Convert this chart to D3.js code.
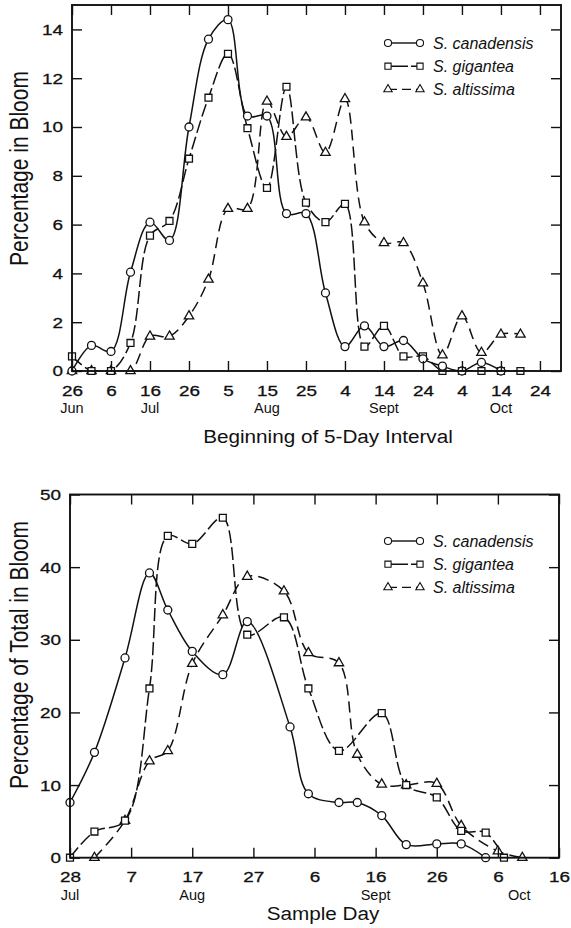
<!DOCTYPE html>
<html>
<head>
<meta charset="utf-8">
<script src="https://cdn.jsdelivr.net/npm/d3@7"></script>
<style>
  body { margin: 0; background: #fff; }
</style>
</head>
<body>
<svg id="fig" width="571" height="928"></svg>
<script>
// ---- data: top panel, days after 26 Jun (start of each 5-day interval)
const intervalDays = [0, 5, 10, 15, 20, 25, 30, 35, 40, 45, 50, 55, 60, 65, 70, 75, 80, 85, 90, 95, 100, 105, 110, 115];
const intervalCanadensis = [0, 1.05, 0.8, 4.05, 6.1, 5.35, 10.0, 13.6, 14.4, 10.45, 10.45, 6.45, 6.45, 3.2, 1.0, 1.85, 1.0, 1.25, 0.5, 0.2, 0, 0.35, 0];
const intervalGigantea = [0.6, 0, 0, 1.15, 5.55, 6.15, 8.7, 11.2, 13.0, 9.95, 7.5, 11.65, 6.9, 6.1, 6.85, 1.0, 1.85, 0.6, 0.6, 0, 0, 0, 0, 0];
const intervalAltissima = [0, 0, 0, 0, 1.42, 1.42, 2.25, 3.75, 6.65, 6.65, 11.05, 9.6, 10.4, 8.95, 11.15, 6.1, 5.25, 5.25, 3.6, 0.65, 2.25, 0.75, 1.5, 1.5];
const intervalTickDays = [0, 10, 20, 30, 40, 50, 60, 70, 80, 90, 100, 110, 120];
const intervalTickLabels = ['26', '6', '16', '26', '5', '15', '25', '4', '14', '24', '4', '14', '24'];
const intervalMonthDays = [0, 20, 50, 80, 110];
const intervalMonths = ['Jun', 'Jul', 'Aug', 'Sept', 'Oct'];
const intervalYTicks = [0, 2, 4, 6, 8, 10, 12, 14];

// ---- data: bottom panel, days after 28 Jul (sample day)
const sampleDaysCanadensis = [0, 4, 9, 13, 16, 20, 25, 29, 36, 39, 44, 47, 51, 55, 60, 64, 68];
const sampleCanadensis = [7.6, 14.5, 27.5, 39.2, 34.1, 28.4, 25.2, 32.5, 18.0, 8.8, 7.6, 7.6, 5.8, 1.8, 1.9, 1.9, 0];
const sampleDaysGigantea = [0, 4, 9, 13, 16, 20, 25, 29, 35, 39, 44, 51, 55, 60, 64, 68, 71];
const sampleGigantea = [0, 3.6, 5.1, 23.3, 44.3, 43.2, 46.8, 30.7, 33.1, 23.3, 14.7, 19.9, 10.0, 8.3, 3.7, 3.45, 0];
const sampleDaysAltissima = [4, 9, 13, 16, 20, 25, 29, 35, 39, 44, 47, 51, 55, 60, 64, 70, 74];
const sampleAltissima = [0, 5.1, 13.3, 14.7, 26.7, 33.4, 38.7, 36.7, 28.2, 26.8, 14.2, 10.1, 10.0, 10.2, 4.4, 0.9, 0];
const sampleTickDays = [0, 10, 20, 30, 40, 50, 60, 70, 80];
const sampleTickLabels = ['28', '7', '17', '27', '6', '16', '26', '6', '16'];
const sampleMonthDays = [0, 20, 50, 73.5];
const sampleMonths = ['Jul', 'Aug', 'Sept', 'Oct'];
const sampleYTicks = [0, 10, 20, 30, 40, 50];

const speciesNames = ['S. canadensis', 'S. gigantea', 'S. altissima'];

// ---- styles
const FONT = '"Liberation Sans", Arial, Helvetica, sans-serif';
const markerTypes = [d3.symbolCircle, d3.symbolSquare, d3.symbolTriangle];
const markerSizes = [50, 48, 38];
const dashes = [null, '13,4', '11,6'];

const svg = d3.select('#fig');

function drawPanel(p) {
  const g = svg.append('g');
  const x = d3.scaleLinear().domain(p.xDomain).range(p.xRange);
  const y = d3.scaleLinear().domain(p.yDomain).range(p.yRange);
  const [x0, x1] = p.xRange;
  const [yb, yt] = p.yRange;

  // clip the smoothed curves to the plot area
  g.append('clipPath').attr('id', p.id + '-clip')
    .append('rect')
    .attr('x', x0).attr('y', yt)
    .attr('width', x1 - x0).attr('height', yb - yt);

  const line = d3.line()
    .x(d => x(d[0]))
    .y(d => y(d[1]))
    .curve(d3.curveCatmullRom.alpha(0.5));

  const series = p.series.map(s => s.days.map((d, j) => [d, s.values[j]]));

  series.forEach((pts, i) => {
    g.append('path')
      .datum(pts)
      .attr('clip-path', `url(#${p.id}-clip)`)
      .attr('d', line)
      .attr('fill', 'none')
      .attr('stroke', '#111')
      .attr('stroke-width', 1.5)
      .attr('stroke-dasharray', dashes[i]);
  });

  // markers, canadensis drawn last so it sits on top
  [2, 1, 0].forEach(i => {
    g.append('g').selectAll('path')
      .data(series[i])
      .join('path')
      .attr('transform', d => `translate(${x(d[0])},${y(d[1])})`)
      .attr('d', d3.symbol().type(markerTypes[i]).size(markerSizes[i]))
      .attr('fill', '#fff')
      .attr('stroke', '#111')
      .attr('stroke-width', 1.3);
  });

  // axes: inward ticks on all four sides
  const styleAxis = a => {
    a.select('.domain').remove();
    a.selectAll('line').attr('stroke', '#111').attr('stroke-width', 1.4);
    a.attr('font-family', FONT).attr('font-size', 15.5).attr('fill', '#111');
    a.selectAll('text')
      .attr('fill', '#111')
      .attr('stroke', '#111')
      .attr('stroke-width', 0.3)
      .attr('transform', 'scale(1.22,1)');
  };

  g.append('g')
    .attr('transform', `translate(0,${yb})`)
    .call(d3.axisBottom(x).tickValues(p.tickDays)
      .tickFormat((d, i) => p.tickLabels[i])
      .tickSizeInner(-10).tickSizeOuter(0).tickPadding(p.xPad))
    .call(styleAxis);

  g.append('g')
    .attr('transform', `translate(0,${yt})`)
    .call(d3.axisTop(x).tickValues(p.tickDays).tickFormat('')
      .tickSizeInner(-10).tickSizeOuter(0))
    .call(styleAxis);

  g.append('g')
    .attr('transform', `translate(${x0},0)`)
    .call(d3.axisLeft(y).tickValues(p.yTicks).tickFormat(d3.format('d'))
      .tickSizeInner(-10).tickSizeOuter(0).tickPadding(7.4))
    .call(styleAxis);

  g.append('g')
    .attr('transform', `translate(${x1},0)`)
    .call(d3.axisRight(y).tickValues(p.yTicks).tickFormat('')
      .tickSizeInner(-10).tickSizeOuter(0))
    .call(styleAxis);

  // frame
  g.append('rect')
    .attr('x', x0).attr('y', yt)
    .attr('width', x1 - x0).attr('height', yb - yt)
    .attr('fill', 'none')
    .attr('stroke', '#111')
    .attr('stroke-width', 1.9);

  // month names under the day ticks
  g.selectAll('.month')
    .data(p.monthDays)
    .join('text')
    .attr('class', 'month')
    .attr('x', d => x(d))
    .attr('y', p.monthY)
    .attr('text-anchor', 'middle')
    .attr('font-family', FONT)
    .attr('font-size', 14.5)
    .attr('fill', '#111')
    .text((d, i) => p.months[i]);

  // axis titles
  g.append('text')
    .attr('transform', `translate(${p.xTitleX},${p.xTitleY}) scale(1.09,1)`)
    .attr('text-anchor', 'middle')
    .attr('font-family', FONT)
    .attr('font-size', 19)
    .attr('fill', '#111')
    .text(p.xTitle);

  g.append('text')
    .attr('transform', `translate(28,${p.yTitleY}) rotate(-90) scale(1,1.22)`)
    .attr('text-anchor', 'middle')
    .attr('font-family', FONT)
    .attr('font-size', 21)
    .attr('fill', '#111')
    .text(p.yTitle);

  // legend
  const lg = g.append('g');
  speciesNames.forEach((name, i) => {
    const ly = p.legendY + i * 23.2;
    lg.append('line')
      .attr('x1', 388).attr('x2', 420)
      .attr('y1', ly).attr('y2', ly)
      .attr('stroke', '#111')
      .attr('stroke-width', 1.4)
      .attr('stroke-dasharray', i === 2 ? '9,5' : (i === 1 ? '20,3' : null));
    [388, 420].forEach(mx => {
      lg.append('path')
        .attr('transform', `translate(${mx},${ly})`)
        .attr('d', d3.symbol().type(markerTypes[i]).size(markerSizes[i] * 0.8))
        .attr('fill', '#fff')
        .attr('stroke', '#111')
        .attr('stroke-width', 1.1);
    });
    lg.append('text')
      .attr('x', 433)
      .attr('y', ly + 5.8)
      .attr('font-family', FONT)
      .attr('font-style', 'italic')
      .attr('font-size', 16)
      .attr('fill', '#111')
      .text(name);
  });
}

drawPanel({
  id: 'interval',
  xDomain: [0, 125.4], xRange: [72, 561],
  yDomain: [0, 15], yRange: [371, 5],
  series: [
    { days: intervalDays.slice(0, intervalCanadensis.length), values: intervalCanadensis },
    { days: intervalDays, values: intervalGigantea },
    { days: intervalDays, values: intervalAltissima }
  ],
  tickDays: intervalTickDays, tickLabels: intervalTickLabels, xPad: 14.5,
  yTicks: intervalYTicks,
  monthDays: intervalMonthDays, months: intervalMonths, monthY: 413,
  xTitle: 'Beginning of 5-Day Interval', xTitleX: 328, xTitleY: 442.5,
  yTitle: 'Percentage in Bloom', yTitleY: 168.5,
  legendY: 43
});

drawPanel({
  id: 'sample',
  xDomain: [0, 80], xRange: [70, 559],
  yDomain: [0, 50], yRange: [857.7, 494.5],
  series: [
    { days: sampleDaysCanadensis, values: sampleCanadensis },
    { days: sampleDaysGigantea, values: sampleGigantea },
    { days: sampleDaysAltissima, values: sampleAltissima }
  ],
  tickDays: sampleTickDays, tickLabels: sampleTickLabels, xPad: 13.5,
  yTicks: sampleYTicks,
  monthDays: sampleMonthDays, months: sampleMonths, monthY: 899.5,
  xTitle: 'Sample Day', xTitleX: 323, xTitleY: 920,
  yTitle: 'Percentage of Total in Bloom', yTitleY: 655,
  legendY: 541
});
</script>
</body>
</html>
